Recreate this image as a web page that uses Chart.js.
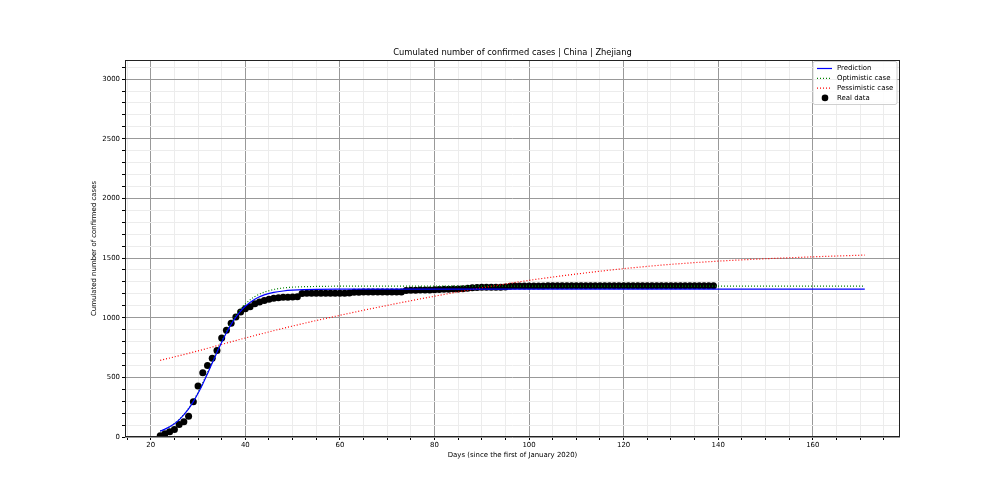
<!DOCTYPE html>
<html><head><meta charset="utf-8">
<script src="https://cdn.jsdelivr.net/npm/chart.js@4/dist/chart.umd.min.js"></script>
<style>html,body{margin:0;padding:0;background:#fff;}canvas{display:block;}</style>
</head><body>
<canvas id="c" width="1000" height="500"></canvas>
<script>
const titleText = 'Cumulated number of confirmed cases | China | Zhejiang';
const xTitle = 'Days (since the first of January 2020)';
const yTitle = 'Cumulated number of confirmed cases';
const seriesNames = ['Prediction', 'Optimistic case', 'Pessimistic case', 'Real data'];

const realDays = [22,23,24,25,26,27,28,29,30,31,32,33,34,35,36,37,38,39,40,41,42,43,44,45,46,47,48,49,50,51,
  52,53,54,55,56,57,58,59,60,61,62,63,64,65,66,67,68,69,70,71,72,73,74,75,76,77,78,79,80,81,
  82,83,84,85,86,87,88,89,90,91,92,93,94,95,96,97,98,99,100,101,102,103,104,105,106,107,108,109,110,111,
  112,113,114,115,116,117,118,119,120,121,122,123,124,125,126,127,128,129,130,131,132,133,134,135,136,137,138,139];
const realCases = [10,27,43,62,104,128,173,296,428,538,
  599,661,724,829,895,954,1006,1048,1075,1092,1117,1131,1145,1155,1162,1167,1171,1172,1174,1175,
  1203,1205,1205,1205,1205,1205,1205,1205,1205,
  1205,1206,1213,1213,1215,1215,1215,1215,1215,1215,1215,1215,1215,1227,1231,1231,1232,1232,1233,1234,
  1236,1238,1238,1240,1241,1243,1247,1251,1254,1255,1255,
  1255,1256,1256,1257,1264,1265,1265,1266,1266,1266,1266,1266,1267,1267,1267,1267,1267,1267,1268,1268,
  1268,1268,1268,1268,1268,1268,1268,1268,1268,1268,
  1268,1268,1268,1268,1268,1268,1268,1268,1268,1268,1268,1268,1268,1268,1268,1268,1268,1268];

const predDays  = [22,24,26,28,29,30,31,32,33,34,35,36,37,38,39,40,42,44,46,48,50,55,60,171];
const predCases = [49,85,144,236,296,366,445,531,620,709,795,874,944,1004,1055,1096,1155,1191,1212,1224,1231,1238,1239,1240];

const optDays  = [22,24,26,28,29,30,31,32,33,34,35,36,37,38,39,40,42,44,46,48,50,55,60,171];
const optCases = [50,86,146,240,302,373,454,541,630,720,807,888,960,1022,1073,1115,1177,1214,1236,1249,1256,1262,1264,1265];

const pessDays  = [22,30,40,50,60,70,80,90,100,110,120,130,140,150,160,171];
const pessCases = [642,722,830,930,1020,1103,1180,1250,1313,1366,1411,1447,1474,1494,1510,1525];

const xLabelTicks = [20,40,60,80,100,120,140,160];
const yLabelTicks = [0,500,1000,1500,2000,2500,3000];

const toXY = (xs, ys) => xs.map((x, i) => ({x: x, y: ys[i]}));

const FONT = 'DejaVu Sans';
const MAJOR = '#999999';
const MINOR = '#ececec';

const frameAndLegend = {
  id: 'frameAndLegend',
  afterDraw(chart) {
    const ctx = chart.ctx;
    const a = chart.chartArea;
    ctx.save();
    // title centred over the plot area
    ctx.fillStyle = '#000';
    ctx.font = '8.33px "' + FONT + '"';
    ctx.textAlign = 'center';
    ctx.textBaseline = 'middle';
    ctx.fillText(titleText, (a.left + a.right) / 2, a.top - 7);
    // frame
    ctx.strokeStyle = '#222';
    ctx.lineWidth = 1;
    ctx.setLineDash([]);
    ctx.strokeRect(Math.round(a.left) + 0.5, Math.round(a.top) + 0.5,
                   Math.round(a.right - a.left) - 1, Math.round(a.bottom - a.top) - 1);
    // legend
    const w = 84, h = 43;
    const x0 = a.right - w - 3, y0 = a.top + 1.5;
    ctx.beginPath();
    const r = 2;
    ctx.moveTo(x0 + r, y0);
    ctx.lineTo(x0 + w - r, y0); ctx.quadraticCurveTo(x0 + w, y0, x0 + w, y0 + r);
    ctx.lineTo(x0 + w, y0 + h - r); ctx.quadraticCurveTo(x0 + w, y0 + h, x0 + w - r, y0 + h);
    ctx.lineTo(x0 + r, y0 + h); ctx.quadraticCurveTo(x0, y0 + h, x0, y0 + h - r);
    ctx.lineTo(x0, y0 + r); ctx.quadraticCurveTo(x0, y0, x0 + r, y0);
    ctx.closePath();
    ctx.fillStyle = 'rgba(255,255,255,0.85)';
    ctx.fill();
    ctx.strokeStyle = '#d0d0d0';
    ctx.lineWidth = 1;
    ctx.stroke();
    ctx.font = '6.95px "' + FONT + '"';
    ctx.textBaseline = 'middle';
    ctx.textAlign = 'left';
    chart.data.datasets.forEach((ds, i) => {
      const yy = y0 + 7 + i * 9.8;
      if (ds.showLine === false) {
        ctx.beginPath();
        ctx.fillStyle = ds.backgroundColor;
        ctx.arc(x0 + 12, yy, 3.3, 0, Math.PI * 2);
        ctx.fill();
      } else {
        ctx.beginPath();
        ctx.strokeStyle = ds.borderColor;
        ctx.lineWidth = ds.borderWidth;
        ctx.setLineDash(ds.borderDash || []);
        ctx.moveTo(x0 + 4, yy);
        ctx.lineTo(x0 + 19, yy);
        ctx.stroke();
        ctx.setLineDash([]);
      }
      ctx.fillStyle = '#000';
      ctx.fillText(ds.label, x0 + 24, yy);
    });
    ctx.restore();
  }
};

new Chart(document.getElementById('c'), {
  type: 'scatter',
  data: {
    datasets: [
      {label: seriesNames[0], data: toXY(predDays, predCases), showLine: true, borderColor: '#0000ff',
       borderWidth: 1.2, pointRadius: 0, fill: false, cubicInterpolationMode: 'monotone'},
      {label: seriesNames[1], data: toXY(optDays, optCases), showLine: true, borderColor: '#008000',
       borderWidth: 1.2, borderDash: [1, 2], pointRadius: 0, fill: false, cubicInterpolationMode: 'monotone'},
      {label: seriesNames[2], data: toXY(pessDays, pessCases), showLine: true, borderColor: '#ff0000',
       borderWidth: 1.2, borderDash: [1, 2], pointRadius: 0, fill: false, cubicInterpolationMode: 'monotone'},
      {label: seriesNames[3], data: toXY(realDays, realCases), showLine: false, backgroundColor: '#000000',
       borderWidth: 0, pointRadius: 3.5}
    ]
  },
  options: {
    responsive: false,
    animation: false,
    devicePixelRatio: 1,
    events: [],
    layout: {padding: {left: 0, right: 100, top: 60, bottom: 0}},
    plugins: {
      legend: {display: false},
      tooltip: {enabled: false},
      title: {display: false}
    },
    scales: {
      x: {
        type: 'linear', min: 14.55, max: 178.45,
        afterFit: s => { s.height = 63; },
        border: {display: false},
        grid: {
          color: c => (c.tick && xLabelTicks.includes(c.tick.value)) ? MAJOR : MINOR,
          lineWidth: 1, tickLength: 3, tickColor: '#000', drawTicks: true
        },
        ticks: {
          stepSize: 5, includeBounds: false, autoSkip: false, maxRotation: 0, padding: 1,
          color: '#000', font: {family: FONT, size: 6.95},
          callback: v => xLabelTicks.includes(v) ? String(v) : ''
        },
        title: {display: true, text: xTitle, color: '#000', font: {family: FONT, size: 6.95},
                padding: {top: 0, bottom: 40.5}}
      },
      y: {
        type: 'linear', min: 0, max: 3160,
        afterFit: s => { s.width = 125; },
        border: {display: false},
        grid: {
          color: c => (c.tick && yLabelTicks.includes(c.tick.value)) ? MAJOR : MINOR,
          lineWidth: 1, tickLength: 3, tickColor: '#000', drawTicks: true
        },
        ticks: {
          stepSize: 100, includeBounds: false, autoSkip: false, padding: 2,
          color: '#000', font: {family: FONT, size: 6.95},
          callback: v => yLabelTicks.includes(v) ? String(v) : ''
        },
        title: {display: true, text: yTitle, color: '#000', font: {family: FONT, size: 6.95},
                padding: {top: 90, bottom: 0}}
      }
    }
  },
  plugins: [frameAndLegend]
});
</script>
</body></html>
